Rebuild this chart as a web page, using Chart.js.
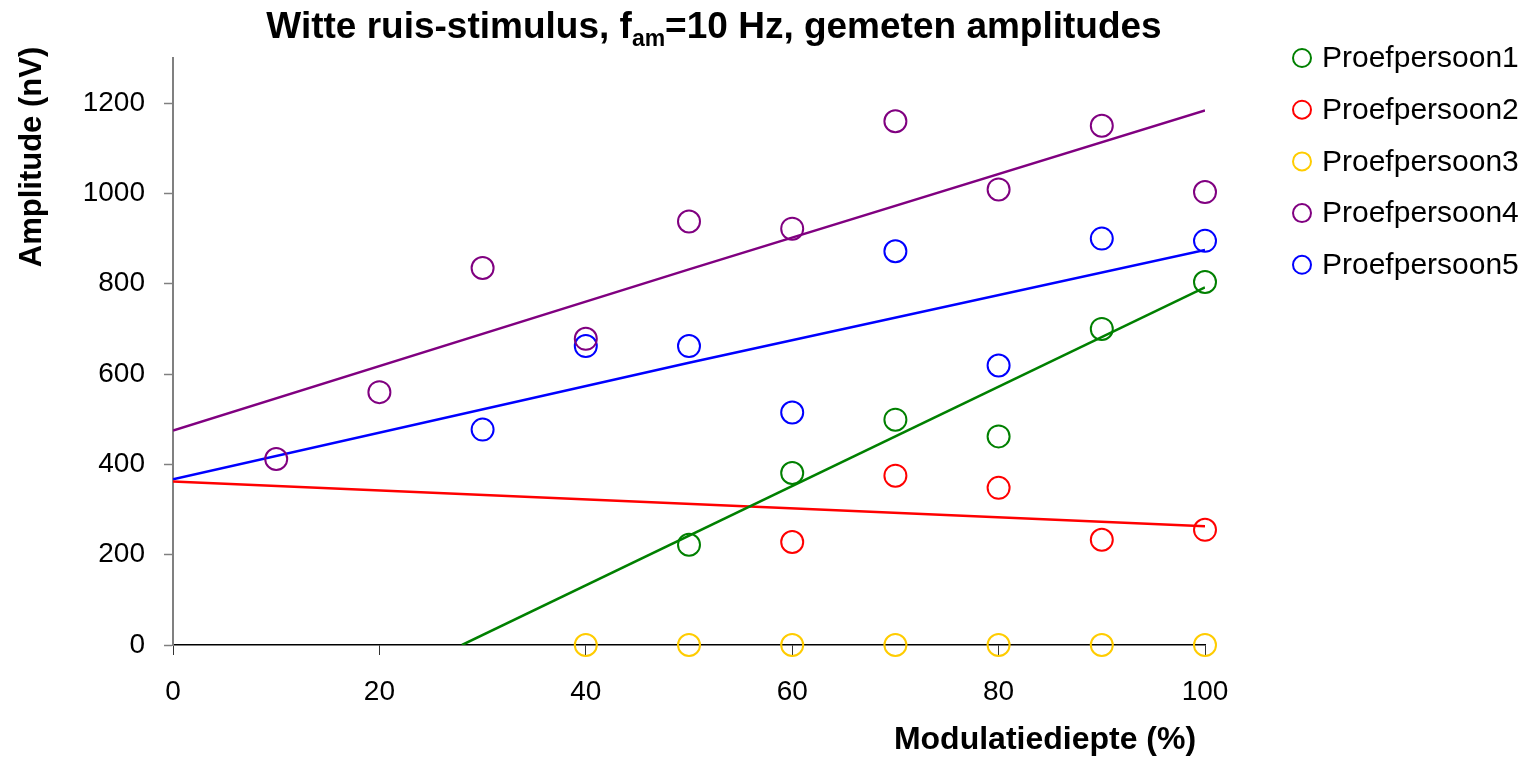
<!DOCTYPE html>
<html><head><meta charset="utf-8">
<script src="https://cdn.jsdelivr.net/npm/chart.js"></script>
<style>html,body{margin:0;padding:0;background:#fff;overflow:hidden}</style>
</head><body>
<canvas id="c" width="1534" height="757"></canvas>
<script>
// ---- data ----
const seriesNames = ['Proefpersoon1','Proefpersoon2','Proefpersoon3','Proefpersoon4','Proefpersoon5'];
const p1X = [50,60,70,80,90,100];
const p1Y = [222,381,499,462,700,804];
const p2X = [60,70,80,90,100];
const p2Y = [228,375,348,233,255];
const p3X = [40,50,60,70,80,90,100];
const p3Y = [0,0,0,0,0,0,0];
const p4X = [10,20,30,40,50,60,70,80,90,100];
const p4Y = [412,560,835,678,938,922,1160,1009,1150,1003];
const p5X = [30,40,50,60,70,80,90,100];
const p5Y = [477,662,662,515,872,619,900,895];
// trend lines as drawn in the picture
const t1X = [28,100];   const t1Y = [0,792];
const t2X = [0,100];    const t2Y = [362,263];
const t4X = [0,50,100]; const t4Y = [475,832,1184];
const t5X = [0,50,100]; const t5Y = [367,625,875];
// tick labels
const xTickValues = [0,20,40,60,80,100];
const yTickValues = [0,200,400,600,800,1000,1200];
const titleMain = 'Witte ruis-stimulus, f';
const titleSub = 'am';
const titleRest = '=10 Hz, gemeten amplitudes';
const xTitle = 'Modulatiediepte (%)';
const yTitle = 'Amplitude (nV)';

const colors = ['#008000','#FF0000','#FFCC00','#800080','#0000FF'];
const FONT = '"Liberation Sans", Arial, sans-serif';

const pts = (xs, ys) => xs.map((x, i) => ({x: x, y: ys[i]}));
const markerSet = (i, xs, ys) => ({
  label: seriesNames[i], data: pts(xs, ys), showLine: false,
  borderColor: colors[i], backgroundColor: 'rgba(0,0,0,0)',
  pointRadius: 11, pointBorderWidth: 2, pointHoverRadius: 11, clip: false, order: 1
});
const trendSet = (i, xs, ys) => ({
  label: seriesNames[i] + ' trend', data: pts(xs, ys), showLine: true, isTrend: true,
  borderColor: colors[i], backgroundColor: colors[i], borderWidth: 2.5,
  pointRadius: 0, pointHoverRadius: 0, fill: false, tension: 0, order: 2
});

const decorations = {
  id: 'decorations',
  afterDraw(chart) {
    const ctx = chart.ctx;
    ctx.save();
    ctx.fillStyle = '#000';
    // title with subscript
    const fMain = 'bold 37px ' + FONT, fSub = 'bold 23px ' + FONT;
    ctx.font = fMain; const w1 = ctx.measureText(titleMain).width; const w3 = ctx.measureText(titleRest).width;
    ctx.font = fSub; const w2 = ctx.measureText(titleSub).width;
    const total = w1 + w2 + w3;
    let x = 714 - total / 2; const base = 38;
    ctx.textBaseline = 'alphabetic'; ctx.textAlign = 'left';
    ctx.font = fMain; ctx.fillText(titleMain, x, base); x += w1;
    ctx.font = fSub; ctx.fillText(titleSub, x, base + 8); x += w2;
    ctx.font = fMain; ctx.fillText(titleRest, x, base);
    // axis titles
    ctx.font = 'bold 32px ' + FONT; ctx.textAlign = 'center'; ctx.textBaseline = 'middle';
    ctx.fillText(xTitle, 1045, 740);
    ctx.save(); ctx.translate(32, 157); ctx.rotate(-Math.PI / 2);
    ctx.font = 'bold 31px ' + FONT; ctx.fillText(yTitle, 0, 0); ctx.restore();
    // legend
    const markers = chart.data.datasets.filter(d => !d.isTrend);
    ctx.font = '30px ' + FONT; ctx.textAlign = 'left'; ctx.textBaseline = 'middle';
    markers.forEach((d, i) => {
      const cy = 58 + i * 51.7;
      ctx.beginPath(); ctx.arc(1302, cy, 9, 0, Math.PI * 2);
      ctx.strokeStyle = d.borderColor; ctx.lineWidth = 2; ctx.stroke();
      ctx.fillStyle = '#000'; ctx.fillText(d.label, 1322, cy + 1);
    });
    ctx.restore();
  }
};

new Chart(document.getElementById('c'), {
  type: 'scatter',
  data: {
    datasets: [
      markerSet(0, p1X, p1Y), markerSet(1, p2X, p2Y), markerSet(2, p3X, p3Y),
      markerSet(3, p4X, p4Y), markerSet(4, p5X, p5Y),
      trendSet(0, t1X, t1Y), trendSet(1, t2X, t2Y), trendSet(3, t4X, t4Y), trendSet(4, t5X, t5Y)
    ]
  },
  options: {
    responsive: false, animation: false, devicePixelRatio: 1,
    layout: { padding: { left: 0, top: 58, right: 329, bottom: 0 } },
    plugins: { legend: { display: false }, title: { display: false }, tooltip: { enabled: false } },
    scales: {
      x: {
        type: 'linear', min: 0, max: 100,
        afterFit(s) { s.height = 112; },
        afterBuildTicks(s) { s.ticks = xTickValues.map(v => ({value: v})); },
        ticks: { font: { family: FONT, size: 28 }, color: '#000', padding: 20, maxRotation: 0, autoSkip: false,
                 callback: v => String(v) },
        grid: { drawOnChartArea: false, drawTicks: true, tickLength: 10, tickColor: '#333', tickWidth: 1 },
        border: { display: true, color: '#000', width: 1.5 }
      },
      y: {
        type: 'linear', min: 0, max: 1300,
        afterFit(s) { s.width = 173; },
        afterBuildTicks(s) { s.ticks = yTickValues.map(v => ({value: v})); },
        ticks: { font: { family: FONT, size: 28 }, color: '#000', padding: 19, autoSkip: false,
                 callback: v => String(v) },
        grid: { drawOnChartArea: false, drawTicks: true, tickLength: 9, tickColor: '#808080', tickWidth: 1.5 },
        border: { display: true, color: '#808080', width: 2 }
      }
    }
  },
  plugins: [decorations]
});
</script>
</body></html>
